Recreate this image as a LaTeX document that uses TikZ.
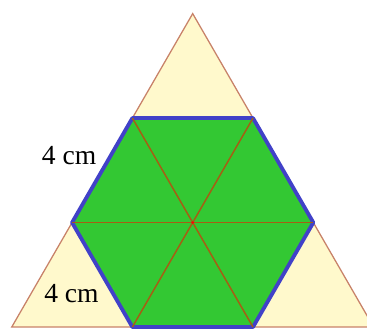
\documentclass[tikz,border=0pt]{standalone}
\usepackage{fontspec}
\setmainfont{Liberation Serif}
\usepackage{tikz}
\usetikzlibrary{positioning}
\definecolor{cream}{RGB}{255,249,204}
\definecolor{rimbrown}{RGB}{200,130,105}
\definecolor{hexgreen}{RGB}{51,200,51}
\definecolor{hexblue}{RGB}{65,65,200}
\definecolor{spokebrown}{RGB}{165,95,20}
\tikzset{
  bigtri/.style={draw=rimbrown, fill=cream, line width=1.2pt, line join=miter},
  hexa/.style={draw=hexblue, fill=hexgreen, line width=3.6pt, line join=round},
  spoke/.style={draw=spokebrown, line width=1.4pt},
  sidelabel/.style={inner sep=0pt, font=\fontsize{26}{30}\selectfont}
}

\begin{document}
\begin{tikzpicture}
\clip (-6.39,-3.53) rectangle (5.78,7.38);
% outer triangle
\coordinate (apex) at (0,6.928);
\coordinate (leftc) at (-6,-3.464);
\coordinate (rightc) at (6,-3.464);
\filldraw[bigtri] (apex) -- (leftc) -- (rightc) -- cycle;
% hexagon
\coordinate (h1) at (2,3.464);
\coordinate (h2) at (-2,3.464);
\coordinate (h3) at (-4,0);
\coordinate (h4) at (-2,-3.464);
\coordinate (h5) at (2,-3.464);
\coordinate (h6) at (4,0);
\coordinate (mid) at (0,0);
\filldraw[hexa] (h1) -- (h2) -- (h3) -- (h4) -- (h5) -- (h6) -- cycle;
\draw[spoke] (h1) -- (h4);
\draw[spoke] (h2) -- (h5);
\draw[spoke] (h3) -- (h6);
\fill[red] (mid) circle (1.3pt);
% labels
\node[sidelabel] (topside) at (-4.1,2.21) {4 cm};
\node[sidelabel] (lowside) at (-4.02,-2.36) {4 cm};
\end{tikzpicture}
\end{document}
